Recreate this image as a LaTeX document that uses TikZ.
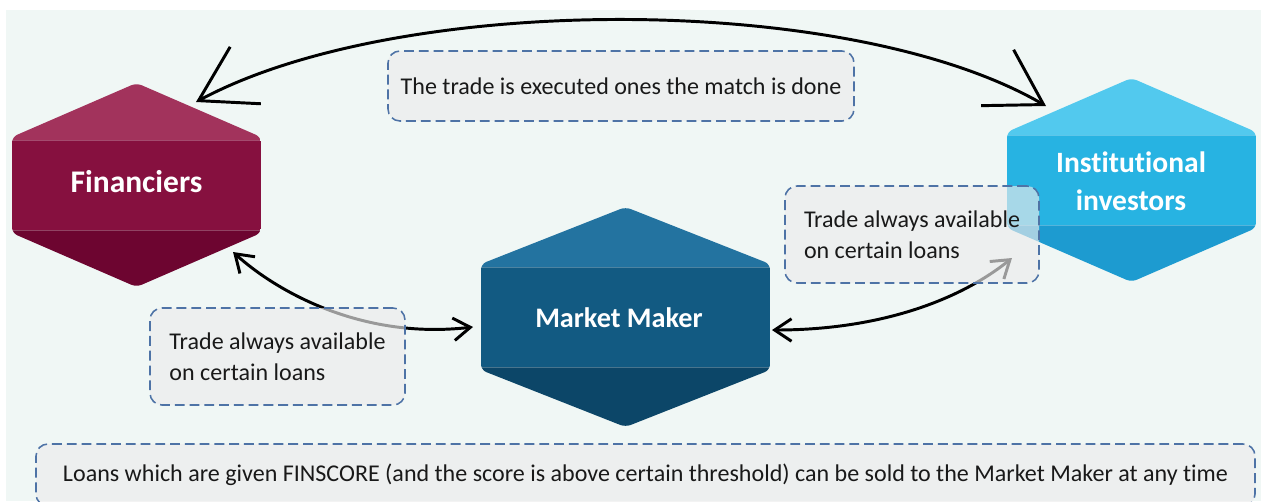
\documentclass[tikz,border=0pt]{standalone}
\usepackage{fontspec}
\setmainfont{Carlito}[Ligatures=NoCommon]
\usetikzlibrary{arrows.meta}
\definecolor{BackMint}{HTML}{F0F7F5}
\definecolor{NoteGray}{HTML}{ECECEC}
\definecolor{NoteBlue}{HTML}{4E73A6}
\definecolor{FinTop}{HTML}{A2335C}
\definecolor{FinMid}{HTML}{86103F}
\definecolor{FinBot}{HTML}{6D0530}
\definecolor{MakerTop}{HTML}{2373A0}
\definecolor{MakerMid}{HTML}{125A82}
\definecolor{MakerBot}{HTML}{0C4668}
\definecolor{InstTop}{HTML}{52C9EE}
\definecolor{InstMid}{HTML}{27B3E2}
\definecolor{InstBot}{HTML}{1D9BD0}
% hexagon with three bands: centre x, top y, bottom y, half width, shoulder, colour prefix
\newcommand\hexshape[6]{%
  \begin{scope}
    \clip[rounded corners=4pt] (#1,#2) -- ({#1+#4},{#2+#5}) -- ({#1+#4},{#3-#5}) -- (#1,#3)
      -- ({#1-#4},{#3-#5}) -- ({#1-#4},{#2+#5}) -- cycle;
    \fill[#6Top] ({#1-#4},#2) rectangle ({#1+#4},{#2+#5+3});
    \fill[#6Mid] ({#1-#4},{#2+#5+3}) rectangle ({#1+#4},{#3-#5-3});
    \fill[#6Bot] ({#1-#4},{#3-#5-3}) rectangle ({#1+#4},#3);
    \draw[white, opacity=0.25, line width=0.6pt] ({#1-#4},{#2+#5+3}) -- ({#1+#4},{#2+#5+3})
      ({#1-#4},{#3-#5-3}) -- ({#1+#4},{#3-#5-3});
  \end{scope}}

\begin{document}
\begin{tikzpicture}[x=0.025cm, y=-0.025cm,
  every node/.style={font=\fontsize{17.1}{22}\selectfont, text=black!90},
  hexlabel/.style={text=white, font=\fontsize{21}{27}\selectfont\bfseries, align=center},
  note/.style={draw=NoteBlue, line width=1.1pt, dash pattern=on 7pt off 3.5pt, rounded corners=8.5pt, fill=NoteGray, fill opacity=0.65, text opacity=1},
  bigarrow/.style={{Straight Barb[length=38pt,width=46pt]}-{Straight Barb[length=38pt,width=46pt]}, line width=2.1pt, line cap=round, line join=round},
  smallarrow/.style={{Straight Barb[length=12pt,width=16pt]}-{Straight Barb[length=12pt,width=16pt]}, line width=2.1pt, line cap=round, line join=round}]
\path[use as bounding box] (0,0) rectangle (1261,501);
\clip (0,0) rectangle (1261,501);
\fill[BackMint] (6,10) rectangle (1261,501);

% the three parties
\hexshape{136.5}{83}{287}{124.5}{54}{Fin}
\hexshape{625.5}{207}{427}{144.5}{57}{Maker}
\hexshape{1131.5}{78}{282}{124.5}{54}{Inst}
\node[hexlabel, font=\fontsize{22.4}{27}\selectfont\bfseries] (fin) at (136.5,182) {Financiers};
\node[hexlabel, font=\fontsize{20.1}{27}\selectfont\bfseries] (maker) at (619,318) {Market Maker};
\node[hexlabel] (inst) at (1131,181) {Institutional\\investors};

% arrow ends
\coordinate (finTop) at (196,102);
\coordinate (instTop) at (1046,106);
\coordinate (finLow) at (233,252);
\coordinate (makerLeft) at (473,327);
\coordinate (makerRight) at (772,330);
\coordinate (instLow) at (1012,258);

\draw[bigarrow] (finTop) .. controls (400,-8) and (850,-8) .. (instTop);
\draw[smallarrow] (finLow) .. controls (275,290) and (360,340) .. (makerLeft);
\draw[smallarrow] (makerRight) .. controls (880,330) and (960,300) .. (instLow);

% notes
\node[note, minimum width=466*0.025cm, minimum height=70*0.025cm] (match) at (621,86) {The trade is executed ones the match is done};
\node[note, minimum width=254*0.025cm, minimum height=97*0.025cm, align=left] (noteRight) at (912,234.5) {Trade always available\\on certain loans};
\node[note, minimum width=255*0.025cm, minimum height=97*0.025cm, align=left] (noteLeft) at (277.5,356.5) {Trade always available\\on certain loans};
\node[note, minimum width=1219*0.025cm, minimum height=62*0.025cm] (finscore) at (645.5,475) {Loans which are given FINSCORE (and the score is above certain threshold) can be sold to the Market Maker at any time};
\end{tikzpicture}
\end{document}
